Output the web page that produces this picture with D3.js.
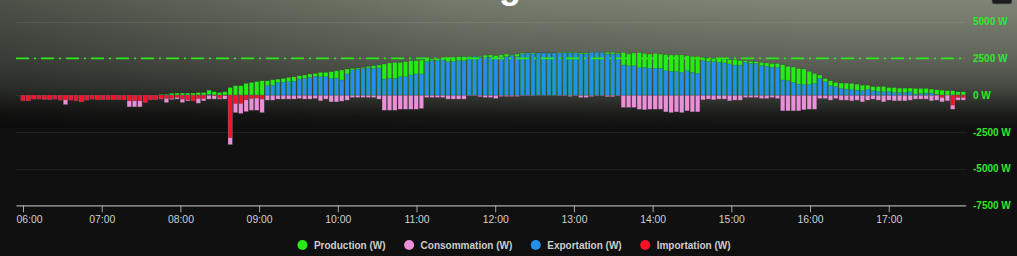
<!DOCTYPE html>
<html>
<head>
<meta charset="utf-8">
<script src="https://cdn.jsdelivr.net/npm/d3@7"></script>
<style>
  html, body { margin: 0; padding: 0; background: #101010; overflow: hidden; }
  svg { display: block; font-family: "Liberation Sans", Arial, sans-serif; }
</style>
</head>
<body>
<svg id="chart" width="1017" height="256"></svg>
<script>
// values in W, one bar every ~4 minutes from 06:00
const production = [
  0,0,0,0,0,0,0,0,0,0,
  0,0,0,0,0,0,0,0,0,0,
  0,0,0,0,0,0,50,60,130,140,
  140,140,140,180,180,340,230,180,230,520,
  640,640,800,870,930,980,980,1050,1090,1140,
  1210,1250,1320,1370,1440,1480,1550,1550,1600,1660,
  1710,1780,1820,1850,1890,1960,2000,2050,2120,2190,
  2230,2230,2280,2350,2350,2390,2460,2460,2510,2510,
  2580,2580,2620,2620,2640,2640,2640,2720,2740,2690,
  2740,2800,2740,2800,2870,2870,2870,2870,2870,2870,
  2870,2920,2920,2920,2920,2870,2870,2920,2920,2920,
  2920,2920,2870,2920,2800,2870,2900,2850,2800,2850,
  2800,2760,2740,2740,2740,2690,2640,2640,2530,2530,
  2510,2510,2460,2420,2420,2350,2350,2300,2280,2230,
  2190,2160,2160,2070,1960,1920,1820,1780,1620,1480,
  1370,1140,980,870,820,820,800,750,680,680,
  590,590,590,520,520,480,480,480,460,460,
  460,410,370,340,300,300,230,230
];
const consommation = [
  390,390,270,270,300,300,270,340,640,340,
  390,460,340,270,320,320,320,320,300,320,
  800,800,800,500,320,320,270,500,300,270,
  500,390,400,550,390,270,270,270,270,3370,
  1190,1250,1120,1030,1030,1190,340,340,270,270,
  270,270,230,270,270,230,390,270,460,460,
  410,340,160,160,160,160,160,270,1030,1030,
  1030,960,960,960,960,910,160,160,160,160,
  270,270,270,270,50,50,110,160,160,230,
  90,90,90,90,50,50,50,20,20,20,
  20,50,50,90,50,160,160,90,50,50,
  110,110,50,840,840,840,960,1000,960,960,
  960,1140,1190,1140,1190,1070,1140,1140,320,270,
  320,270,270,390,340,340,160,160,160,230,
  230,160,230,1070,1070,1070,1070,1000,960,960,
  230,230,340,230,340,340,390,340,460,340,
  270,340,460,340,390,390,390,340,270,270,
  270,390,340,460,390,960,340,340
];
const exportation = [
  0,0,0,0,0,0,0,0,0,0,
  0,0,0,0,0,0,0,0,0,0,
  0,0,0,0,0,0,0,0,0,0,
  0,0,0,0,0,60,0,0,0,0,
  0,0,0,0,0,0,640,680,870,870,
  910,940,1090,1140,1210,1280,1250,1260,1140,1160,
  1030,1440,1710,1780,1820,1850,1820,1850,1090,1140,
  1140,1250,1250,1370,1440,1440,2280,2350,2350,2390,
  2280,2280,2350,2350,2580,2640,2580,2580,2580,2510,
  2580,2620,2690,2620,2800,2870,2800,2870,2870,2870,
  2870,2870,2870,2870,2870,2800,2800,2920,2920,2920,
  2800,2800,2800,2050,2000,2000,1860,1890,1820,1820,
  1820,1660,1620,1600,1550,1660,1550,1480,2350,2280,
  2280,2230,2190,2120,2050,2050,2230,2160,2160,2000,
  1960,1890,1890,1030,980,870,750,710,710,800,
  1140,910,640,590,460,410,370,340,300,370,
  300,250,230,230,180,180,180,230,70,110,
  140,140,30,0,0,0,0,0
];
const importation = [
  390,390,270,270,300,300,270,340,320,340,
  390,460,340,270,320,320,320,320,300,320,
  390,390,390,500,320,320,230,230,230,160,
  270,320,390,230,230,0,40,200,40,2900,
  570,570,320,230,200,270,0,0,0,0,
  0,0,0,0,0,0,0,0,0,0,
  0,0,0,0,0,0,0,0,0,0,
  0,0,0,0,0,0,0,0,0,0,
  0,0,0,0,0,0,0,0,0,0,
  0,0,0,0,0,0,0,0,0,0,
  0,0,0,0,0,0,0,0,0,0,
  0,0,0,0,0,0,0,0,0,0,
  0,0,0,0,0,0,0,0,0,0,
  0,0,0,0,0,0,0,0,0,0,
  0,0,0,0,0,0,0,0,0,0,
  0,0,0,0,0,0,0,0,0,0,
  0,0,0,0,0,0,0,0,0,0,
  0,0,0,160,0,680,160,160
];

const seriesNames  = ["Production (W)", "Consommation (W)", "Exportation (W)", "Importation (W)"];
const seriesColors = ["#25ec15", "#ea8fd8", "#2290ee", "#ff1024"];
const hourTicks    = ["06:00", "07:00", "08:00", "09:00", "10:00", "11:00", "12:00", "13:00", "14:00", "15:00", "16:00", "17:00"];
const yTicks       = [5000, 2500, 0, -2500, -5000, -7500];
const firstSample  = "06:00:00";
const stepSeconds  = 243;
const plotLine     = 2500;

const svg = d3.select("#chart");
const W = 1017, H = 256;
const parseT = d3.timeParse("%H:%M:%S");
const parseHM = d3.timeParse("%H:%M");

// background
const defs = svg.append("defs");
const gv = defs.append("linearGradient").attr("id", "bgV")
  .attr("gradientUnits", "userSpaceOnUse").attr("x1", 0).attr("y1", 0).attr("x2", 0).attr("y2", 128);
[[0, "#7f8576"], [0.45, "#60655a"], [0.68, "#464941"], [0.8, "#2e302c"], [0.9, "#1a1b19"], [1, "#101010"]]
  .forEach(s => gv.append("stop").attr("offset", s[0]).attr("stop-color", s[1]));
const gh = defs.append("linearGradient").attr("id", "bgH")
  .attr("gradientUnits", "userSpaceOnUse").attr("x1", 0).attr("y1", 0).attr("x2", W).attr("y2", 0);
[[0, "#000", 0.4], [0.45, "#000", 0.08], [0.8, "#000", 0], [1, "#000", 0]]
  .forEach(s => gh.append("stop").attr("offset", s[0]).attr("stop-color", s[1]).attr("stop-opacity", s[2]));

svg.append("rect").attr("width", W).attr("height", H).attr("fill", "#101010");
svg.append("rect").attr("width", W).attr("height", 128).attr("fill", "url(#bgV)");
svg.append("rect").attr("width", W).attr("height", 128).attr("fill", "url(#bgH)");

// cropped title and menu button
svg.append("text").attr("x", 510).attr("y", -2).attr("text-anchor", "middle")
  .attr("font-size", 36).attr("font-weight", "bold").attr("fill", "#fff").text("g");
svg.append("rect").attr("x", 992).attr("y", -10).attr("width", 20).attr("height", 14).attr("rx", 2)
  .attr("fill", "#1c1c1c").attr("stroke", "#666").attr("stroke-width", 0.8);

// scales
const x = d3.scaleTime()
  .domain([parseT("05:54:40"), parseT("17:58:40")])
  .range([16, 965.7]);
const y = d3.scaleLinear().domain([-7500, 5000]).range([205.3, 21.7]);

const t0 = parseT(firstSample);
const times = production.map((_, i) => new Date(t0.getTime() + i * stepSeconds * 1000));

// grid
svg.append("g").selectAll("line").data(yTicks.slice(0, -1)).enter().append("line")
  .attr("x1", 16).attr("x2", 965.7)
  .attr("y1", d => Math.round(y(d)) + 0.5).attr("y2", d => Math.round(y(d)) + 0.5)
  .attr("stroke", "#fff").attr("stroke-opacity", 0.07);

// bars
const bw = 4.4;
const series = [
  { vals: production,   sign: 1,  color: seriesColors[0], w: bw },
  { vals: consommation, sign: -1, color: seriesColors[1], w: bw },
  { vals: exportation,  sign: 1,  color: seriesColors[2], w: bw - 0.6 },
  { vals: importation,  sign: -1, color: seriesColors[3], w: bw - 0.6 }
];
const barG = svg.append("g");
series.forEach(s => {
  barG.append("g").selectAll("rect")
    .data(s.vals.map((v, i) => ({ t: times[i], v: v * s.sign })).filter(d => d.v !== 0))
    .enter().append("rect")
    .attr("x", d => x(d.t) - s.w / 2)
    .attr("width", s.w)
    .attr("y", d => Math.min(y(d.v), y(0)))
    .attr("height", d => Math.abs(y(d.v) - y(0)))
    .attr("fill", s.color)
    .attr("stroke", "#3a3a3a").attr("stroke-opacity", 0.5).attr("stroke-width", 0.5);
});

// dash-dot plot line
svg.append("line")
  .attr("x1", 16).attr("x2", 963)
  .attr("y1", y(plotLine)).attr("y2", y(plotLine))
  .attr("stroke", "#2ae81a").attr("stroke-width", 1.6)
  .attr("stroke-dasharray", "13,5,2,5");

// x axis
const xAxis = d3.axisBottom(x)
  .tickValues(hourTicks.map(parseHM).map(d => { const n = new Date(t0); n.setHours(d.getHours(), 0, 0, 0); return n; }))
  .tickFormat(d3.timeFormat("%H:%M"))
  .tickSize(7).tickSizeOuter(0).tickPadding(3);
const xg = svg.append("g").attr("transform", `translate(0,${y(-7500)})`).call(xAxis);
xg.select(".domain").attr("stroke", "#a8a8a8").attr("stroke-width", 1.2);
xg.selectAll(".tick line").attr("stroke", "#a8a8a8");
xg.selectAll(".tick text").attr("fill", "#cfcfcf").attr("font-size", 10.4)
  .attr("font-family", "Liberation Sans, Arial, sans-serif");
xg.select(".tick text").attr("text-anchor", "start").attr("x", -7);

// y labels
const yg = svg.append("g").attr("transform", "translate(972,0)")
  .call(d3.axisRight(y).tickValues(yTicks).tickFormat(d => d + " W").tickSize(0).tickPadding(1));
yg.select(".domain").remove();
yg.selectAll(".tick text").attr("fill", "#2ee82a").attr("font-size", 10)
  .attr("font-weight", "bold").attr("font-family", "Liberation Sans, Arial, sans-serif");

// legend
const lg = svg.append("g");
let lx = 0;
seriesNames.forEach((name, i) => {
  const item = lg.append("g").attr("transform", `translate(${lx},0)`);
  item.append("circle").attr("cx", 0).attr("cy", 0).attr("r", 5).attr("fill", seriesColors[i]);
  const t = item.append("text").attr("x", 11.5).attr("y", 3.6)
    .attr("font-size", 10).attr("font-weight", "bold").attr("fill", "#cccccc").text(name);
  lx += 11.5 + t.node().getComputedTextLength() + 23.5;
});
const bb = lg.node().getBBox();
lg.attr("transform", `translate(${514 - (bb.x + bb.width / 2)},245)`);
</script>
</body>
</html>
